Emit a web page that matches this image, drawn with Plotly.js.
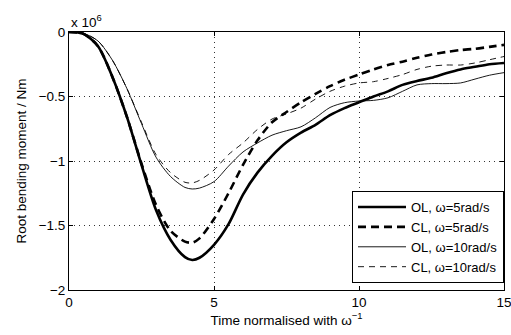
<!DOCTYPE html>
<html>
<head>
<meta charset="utf-8">
<script src="https://cdn.plot.ly/plotly-3.0.1.min.js"></script>
<style>html,body{margin:0;padding:0;background:#fff;}#chart{width:511px;height:335px;}</style>
</head>
<body>
<div id="chart"></div>
<script>
// time normalised with 1/omega
const time = [0,0.5,1,1.5,2,2.5,3,3.5,4,4.25,4.5,5,5.5,6,6.5,7,7.5,8,8.5,9,9.5,10,10.5,11,11.5,12,12.5,13,13.5,14,14.5,15];
// root bending moment, units of 1e6 Nm
const ol5  = [0,-0.015,-0.11,-0.35,-0.66,-1.03,-1.38,-1.61,-1.745,-1.767,-1.75,-1.65,-1.49,-1.26,-1.09,-0.96,-0.855,-0.78,-0.72,-0.645,-0.59,-0.545,-0.50,-0.46,-0.41,-0.38,-0.355,-0.32,-0.29,-0.27,-0.25,-0.24];
const cl5  = [0,-0.015,-0.11,-0.35,-0.66,-1.02,-1.34,-1.54,-1.625,-1.633,-1.60,-1.45,-1.25,-1.03,-0.84,-0.70,-0.62,-0.545,-0.48,-0.42,-0.37,-0.33,-0.29,-0.256,-0.23,-0.20,-0.175,-0.155,-0.14,-0.13,-0.115,-0.10];
const ol10 = [0,-0.01,-0.07,-0.22,-0.44,-0.71,-0.97,-1.12,-1.205,-1.217,-1.21,-1.16,-1.04,-0.93,-0.86,-0.80,-0.765,-0.735,-0.665,-0.585,-0.548,-0.535,-0.53,-0.51,-0.46,-0.41,-0.40,-0.40,-0.395,-0.365,-0.335,-0.315];
const cl10 = [0,-0.01,-0.07,-0.22,-0.44,-0.70,-0.95,-1.09,-1.165,-1.17,-1.15,-1.07,-0.95,-0.86,-0.755,-0.675,-0.635,-0.59,-0.52,-0.46,-0.42,-0.395,-0.385,-0.36,-0.33,-0.29,-0.265,-0.256,-0.256,-0.24,-0.215,-0.19];
const names = ['OL, ω=5rad/s','CL, ω=5rad/s','OL, ω=10rad/s','CL, ω=10rad/s'];
const xTicks = [0,5,10,15];
const yTicks = [0,-0.5,-1,-1.5,-2];
const yTickText = ['0','−0.5','−1','−1.5','−2'];

const font = {family:'Liberation Sans, Arial, sans-serif', size:13.5, color:'#000'};
const legendFont = {family:'Liberation Sans, Arial, sans-serif', size:13, color:'#000'};
const series = [ol5, cl5, ol10, cl10];
const styles = [
  {width:2.6, dash:'solid'},
  {width:2.6, dash:'8px,5px'},
  {width:0.9, dash:'solid'},
  {width:0.9, dash:'6px,5px'}
];
const traces = series.map((s,i)=>({
  x: time, y: s, name: names[i], type:'scatter', mode:'lines',
  line:{color:'#000', width:styles[i].width, dash:styles[i].dash, shape:'spline', smoothing:0.8}
}));

const axisCommon = {
  showline:true, linecolor:'#000', linewidth:1, mirror:'allticks',
  ticks:'inside', ticklen:4, tickcolor:'#000',
  showgrid:true, gridcolor:'#333', griddash:'1px,4px', gridwidth:1,
  zeroline:false, tickfont:font, ticklabeloverflow:'allow'
};
const layout = {
  width:511, height:335,
  margin:{l:69, r:7, t:32, b:45},
  paper_bgcolor:'#fff', plot_bgcolor:'#fff',
  font:font,
  showlegend:true,
  legend:{x:1, xanchor:'right', y:0.027, yanchor:'bottom', bgcolor:'#fff',
          bordercolor:'#000', borderwidth:1, font:legendFont, tracegroupgap:0, itemwidth:48},
  xaxis:Object.assign({}, axisCommon, {range:[0,15], tickvals:xTicks, ticktext:xTicks.map(String),
          title:{text:'Time normalised with ω<sup>−1</sup>', font:font, standoff:0}}),
  yaxis:Object.assign({}, axisCommon, {range:[-2,0], tickvals:yTicks, ticktext:yTickText,
          title:{text:'Root bending moment / Nm', font:font, standoff:8}}),
  annotations:[{xref:'paper', yref:'paper', x:0, y:1, xanchor:'left', yanchor:'bottom',
                text:'x 10<sup>6</sup>', showarrow:false, font:font, yshift:0}]
};
Plotly.newPlot('chart', traces, layout, {staticPlot:true, displayModeBar:false});
</script>
</body>
</html>
